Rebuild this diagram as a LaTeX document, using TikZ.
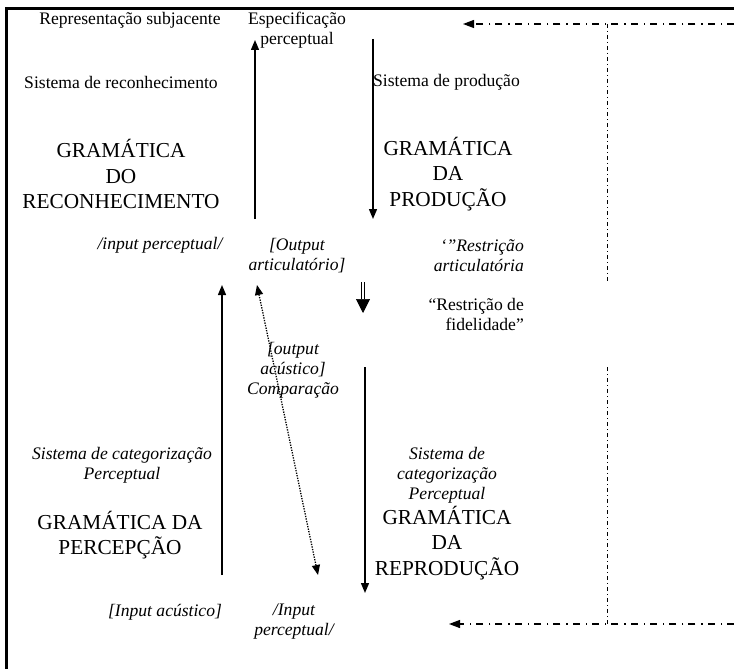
\documentclass[tikz,border=0pt]{standalone}
\usepackage{fontspec}
\setmainfont{Liberation Serif}
\usetikzlibrary{arrows.meta}

\tikzset{
    lbl/.style={font=\fontsize{17.6}{20}\selectfont, inner sep=0pt, align=center},
    ilbl/.style={font=\fontsize{17.6}{20}\selectfont\itshape, inner sep=0pt, align=center},
    gram/.style={font=\fontsize{21.3}{25.5}\selectfont, inner sep=0pt, align=center},
    flow/.style={line width=1.4pt, -{Triangle[length=10pt,width=8pt]}},
    back/.style={line width=1.2pt, dash pattern=on 7pt off 5pt on 1.3pt off 6pt},
    backv/.style={line width=1pt, dash pattern=on 4pt off 3pt on 1pt off 3pt},
}

\begin{document}
\begin{tikzpicture}[x=1pt,y=-1pt]
    \useasboundingbox (0,0) rectangle (734,669);

    % Frame (open to the right and bottom)
    \draw[line width=2.5pt] (734,8.5) -- (6.5,8.5) -- (6.5,669);

    % Upper half
    \node[lbl] (rep) at (130,20) {Representação subjacente};
    \node[lbl] (espec) at (297,30) {Especificação\\perceptual};
    \node[lbl] (sisrec) at (121,82) {Sistema de reconhecimento};
    \node[lbl, anchor=west] (sisprod) at (373,82) {Sistema de produção};
    \node[gram] (gramrec) at (121,174) {GRAMÁTICA\\DO\\RECONHECIMENTO};
    \node[gram] (gramprod) at (448,174) {GRAMÁTICA\\DA\\PRODUÇÃO};

    % Middle labels
    \node[ilbl] (inperc) at (160,245) {/input perceptual/};
    \node[ilbl] (outart) at (297,256) {[Output\\articulatório]};
    \node[ilbl, align=right, anchor=east] (restart) at (524,256) {‘”Restrição\\articulatória};
    \node[lbl, align=right, anchor=east] (restfid) at (524,314) {“Restrição de\\fidelidade”};
    \node[ilbl] (outac) at (293,370) {[output\\acústico]\\Comparação};

    % Lower half
    \node[ilbl] (siscat) at (122,465) {Sistema de categorização\\Perceptual};
    \node[gram] (gramperc) at (120,535) {GRAMÁTICA DA\\PERCEPÇÃO};
    \node[ilbl] (siscatr) at (447,475) {Sistema de\\categorização\\Perceptual};
    \node[gram] (gramrepr) at (447,543) {GRAMÁTICA\\DA\\REPRODUÇÃO};
    \node[ilbl] (inac) at (165,612) {[Input acústico]};
    \node[ilbl] (inpercb) at (294,622) {/Input\\perceptual/};

    % Arrow ends
    \coordinate (recB) at (255,219);
    \coordinate (recT) at (255,40);
    \coordinate (prodT) at (373,39);
    \coordinate (prodB) at (373,219);
    \coordinate (percB) at (222,575);
    \coordinate (percT) at (222,285);
    \coordinate (cmpT) at (257,285);
    \coordinate (cmpB) at (318,575);
    \coordinate (reprT) at (365,367);
    \coordinate (reprB) at (365,593);
    \coordinate (fidT) at (363,282);
    \coordinate (fidB) at (363,313);

    \draw[flow] (recB) -- (recT);
    \draw[flow] (prodT) -- (prodB);
    \draw[flow] (percB) -- (percT);
    \draw[flow] (reprT) -- (reprB);
    \draw[line width=1.3pt, dash pattern=on 1.3pt off 1.3pt, {Triangle[length=10pt,width=8pt]}-{Triangle[length=10pt,width=8pt]}] (cmpT) -- (cmpB);
    \draw[double, double distance=2pt, line width=0.7pt, -{Triangle[length=14pt,width=14pt]}] (fidT) -- (fidB);

    % Feedback lines on the right
    \coordinate (topR) at (734,24);
    \coordinate (topL) at (463,24);
    \coordinate (topJ) at (607,24);
    \coordinate (midA) at (607,282);
    \coordinate (midB) at (607,367);
    \coordinate (botJ) at (607,624);
    \coordinate (botR) at (734,624);
    \coordinate (botL) at (449,624);

    \draw[back, -{Triangle[length=11pt,width=8pt]}] (topR) -- (topL);
    \draw[backv] (topJ) -- (midA);
    \draw[backv] (midB) -- (botJ);
    \draw[back, -{Triangle[length=11pt,width=8pt]}] (botR) -- (botL);
\end{tikzpicture}
\end{document}
